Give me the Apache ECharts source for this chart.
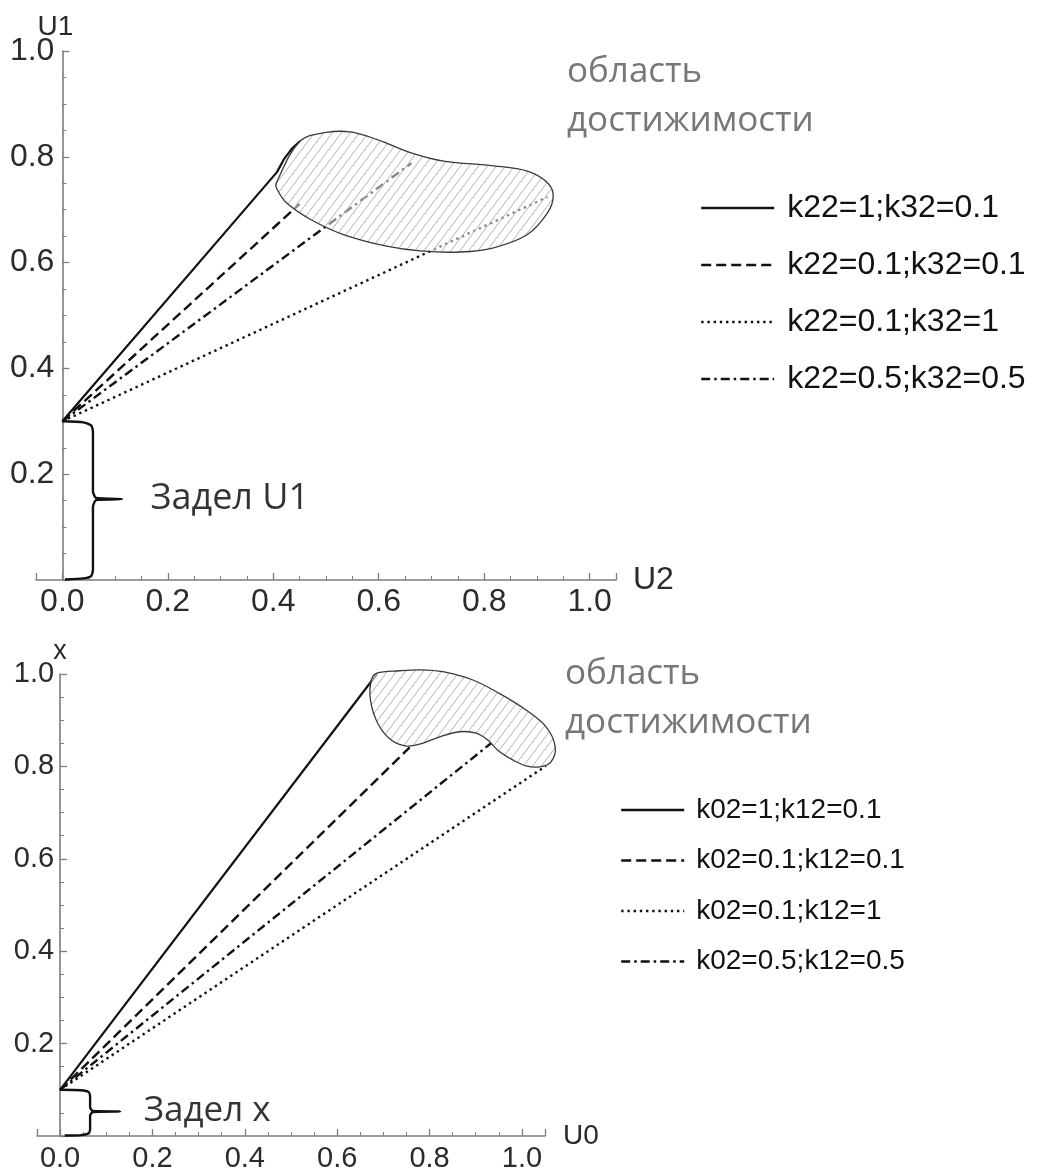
<!DOCTYPE html>
<html>
<head>
<meta charset="utf-8">
<script src="https://cdn.jsdelivr.net/npm/echarts@6/dist/echarts.min.js"></script>
<style>
  html, body { margin: 0; padding: 0; background: #fff; }
  #chart { width: 1040px; height: 1173px; }
</style>
</head>
<body>
<div id="chart"></div>
<script>
// ---------- Upper panel: U1 versus U2 ----------
const upperNames = ['k22=1;k32=0.1', 'k22=0.1;k32=0.1', 'k22=0.1;k32=1', 'k22=0.5;k32=0.5'];
const upperSolid   = [[0, 0.3], [0.407, 0.771], [0.42, 0.795], [0.435, 0.815], [0.451, 0.830]];
const upperDashed  = [[0, 0.3], [0.45, 0.711]];
const upperDotted  = [[0, 0.3], [0.92, 0.724]];
const upperDashDot = [[0, 0.3], [0.662, 0.788]];
const upperRegion = [
  [0.406, 0.751], [0.451, 0.830], [0.501, 0.846], [0.546, 0.847], [0.596, 0.833],
  [0.660, 0.808], [0.723, 0.792], [0.818, 0.783], [0.882, 0.773], [0.920, 0.751],
  [0.931, 0.726], [0.920, 0.694], [0.882, 0.653], [0.818, 0.628], [0.755, 0.620],
  [0.679, 0.622], [0.615, 0.631], [0.533, 0.653], [0.470, 0.682], [0.425, 0.713],
  [0.407, 0.739]
];
const upperReserve = [
  [0, 0.3], [0.04, 0.298], [0.055, 0.292], [0.058, 0.28], [0.058, 0.168], [0.064, 0.155],
  [0.113, 0.153], [0.064, 0.151], [0.058, 0.138], [0.058, 0.02], [0.055, 0.008],
  [0.04, 0.003], [0.005, 0.001]
];
const upperReserveTip = [0.113, 0.153];
const upperReserveText = 'Задел U1';

// ---------- Lower panel: x versus U0 ----------
const lowerNames = ['k02=1;k12=0.1', 'k02=0.1;k12=0.1', 'k02=0.1;k12=1', 'k02=0.5;k12=0.5'];
const lowerSolid   = [[0, 0.1], [0.686, 1.0]];
const lowerDashed  = [[0, 0.1], [0.757, 0.841]];
const lowerDotted  = [[0, 0.1], [1.052, 0.801]];
const lowerDashDot = [[0, 0.1], [0.933, 0.850]];
const lowerRegion = [
  [0.686, 1.002], [0.735, 1.007], [0.778, 1.009], [0.829, 1.005], [0.894, 0.987],
  [0.951, 0.958], [1.009, 0.922], [1.052, 0.886], [1.072, 0.843], [1.063, 0.810],
  [1.038, 0.799], [1.009, 0.801], [0.980, 0.814], [0.951, 0.832], [0.926, 0.857],
  [0.901, 0.872], [0.865, 0.875], [0.822, 0.864], [0.778, 0.848], [0.750, 0.844],
  [0.717, 0.857], [0.688, 0.893], [0.672, 0.944], [0.674, 0.987]
];
const lowerReserve = [
  [0, 0.1], [0.045, 0.099], [0.062, 0.095], [0.065, 0.085], [0.065, 0.062], [0.071, 0.054],
  [0.13, 0.053], [0.071, 0.052], [0.065, 0.044], [0.065, 0.015], [0.062, 0.006],
  [0.045, 0.002], [0.01, 0.001]
];
const lowerReserveTip = [0.13, 0.053];
const lowerReserveText = 'Задел x';

const regionCaption = ['область', 'достижимости'];

// shared horizontal range of both panels
const xMin = -0.05, xMax = 1.05;

// ---------- styles ----------
const ink = '#111111';
const axisGrey = '#7d7d7d';
const labelInk = '#2b2b2b';
const dashStyles = ['solid', [10, 5], [2.4, 3.8], [9, 4, 2.5, 4]];
const numFont = '"Liberation Sans", Arial, sans-serif';
const textFont = '"Open Sans", "Noto Sans", sans-serif';

const grids = [
  { left: 36, top: 51, width: 580, height: 529 },
  { left: 37, top: 674, width: 508, height: 462 }
];

// diagonal hatch tile for the reachable region, on a translucent white base
function hatchTile(w, h) {
  const c = document.createElement('canvas');
  c.width = w; c.height = h;
  const g = c.getContext('2d');
  g.fillStyle = 'rgba(255,255,255,0.5)';
  g.fillRect(0, 0, w, h);
  g.strokeStyle = '#b3b3b3';
  g.lineWidth = 1;
  for (const dx of [-w, 0, w]) {
    g.beginPath(); g.moveTo(dx, h); g.lineTo(dx + w, 0); g.stroke();
  }
  return c;
}
const hatch = hatchTile(9, 12);

function lineSeries(name, data, style, idx) {
  return {
    name, type: 'line', data, xAxisIndex: idx, yAxisIndex: idx,
    symbol: 'none', z: 3, silent: true, animation: false,
    lineStyle: { color: ink, width: style === 'solid' ? 2.2 : 2.4, type: style, cap: 'butt' },
    itemStyle: { color: ink }
  };
}

function regionSeries(data, idx) {
  return {
    type: 'custom', xAxisIndex: idx, yAxisIndex: idx, data, z: 5, clip: false,
    silent: true, animation: false, encode: { x: 0, y: 1 },
    renderItem(params, api) {
      if (params.dataIndex !== 0) return null;
      const pts = data.map(p => api.coord(p));
      return {
        type: 'polygon',
        shape: { points: pts, smooth: 0.35 },
        style: { fill: { image: hatch, repeat: 'repeat' }, stroke: '#3a3a3a', lineWidth: 1.3 }
      };
    }
  };
}

function braceSeries(data, idx) {
  return {
    type: 'line', data, xAxisIndex: idx, yAxisIndex: idx, symbol: 'none', z: 3,
    silent: true, animation: false, smooth: 0.2,
    lineStyle: { color: ink, width: 2.4 }
  };
}

function braceLabel(tip, text, dist, size, idx) {
  return {
    type: 'scatter', data: [tip], xAxisIndex: idx, yAxisIndex: idx, symbolSize: 1,
    silent: true, animation: false, itemStyle: { color: 'rgba(0,0,0,0)' },
    label: {
      show: true, position: 'right', distance: dist, formatter: text,
      fontFamily: textFont, fontSize: size, color: '#000'
    }
  };
}

const isMajor = v => Math.abs(v / 0.2 - Math.round(v / 0.2)) < 1e-6;

function xAxisCfg(idx, name, fontSize, nameSize, nameGap, margin) {
  return {
    type: 'value', gridIndex: idx, min: xMin, max: xMax, splitNumber: 5,
    name, nameLocation: 'end', nameGap, nameMoveOverlap: false,
    nameTextStyle: { fontFamily: numFont, fontSize: nameSize, color: labelInk, verticalAlign: 'middle' },
    axisLine: { onZero: false, lineStyle: { color: axisGrey, width: 1.6 } },
    axisTick: { show: true, inside: true, length: 7, lineStyle: { color: axisGrey, width: 1.3 } },
    minorTick: { show: true, splitNumber: 4, length: 4, lineStyle: { color: axisGrey, width: 1 } },
    splitLine: { show: false }, minorSplitLine: { show: false },
    axisLabel: {
      fontFamily: numFont, fontSize, color: labelInk, margin,
      showMinLabel: false, showMaxLabel: true, hideOverlap: false,
      formatter: v => (isMajor(v) ? v.toFixed(1) : '')
    }
  };
}

// the vertical axis stands at x = 0, inside the horizontal range
function yAxisCfg(idx, name, fontSize, nameSize, nameGap, namePadRight, margin) {
  const g = grids[idx];
  const zeroShift = (0 - xMin) / (xMax - xMin) * g.width;
  return {
    type: 'value', gridIndex: idx, min: 0, max: 1, interval: 0.2,
    position: 'left', offset: -zeroShift,
    name, nameLocation: 'end', nameGap, nameMoveOverlap: false,
    nameTextStyle: { fontFamily: numFont, fontSize: nameSize, color: labelInk, padding: [0, namePadRight, 0, 0] },
    axisLine: { onZero: false, lineStyle: { color: axisGrey, width: 1.6 } },
    axisTick: { show: true, inside: true, length: 7, lineStyle: { color: axisGrey, width: 1.3 } },
    minorTick: { show: true, splitNumber: 4, length: 4, lineStyle: { color: axisGrey, width: 1 } },
    splitLine: { show: false }, minorSplitLine: { show: false },
    axisLabel: {
      fontFamily: numFont, fontSize, color: labelInk, margin, hideOverlap: false,
      formatter: v => (v === 0 ? '' : v.toFixed(1))
    }
  };
}

function legendCfg(names, left, top, itemWidth, gap, fontSize, pad) {
  return {
    data: names, orient: 'vertical', left, top, itemWidth, itemHeight: 14, itemGap: gap,
    selectedMode: false,
    itemStyle: { opacity: 0 },
    lineStyle: { width: 2.4 },
    textStyle: { fontFamily: numFont, fontSize, color: ink, padding: [0, 0, 0, pad] }
  };
}

function caption(x, y1, y2) {
  const st = { fontFamily: textFont, fontSize: 35, fill: '#777777', align: 'left', verticalAlign: 'middle' };
  return [
    { type: 'text', x, y: y1, silent: true, style: Object.assign({ text: regionCaption[0] }, st) },
    { type: 'text', x, y: y2, silent: true, style: Object.assign({ text: regionCaption[1] }, st) }
  ];
}

const chart = echarts.init(document.getElementById('chart'), null, { renderer: 'canvas' });
chart.setOption({
  backgroundColor: '#ffffff',
  animation: false,
  grid: grids.map(g => Object.assign({ containLabel: false, outerBoundsMode: 'none' }, g)),
  xAxis: [
    xAxisCfg(0, 'U2', 32, 32, 17, 6),
    xAxisCfg(1, 'U0', 29, 28, 18, 8)
  ],
  yAxis: [
    yAxisCfg(0, 'U1', 32, 28, 10, 14, 8),
    yAxisCfg(1, 'x', 29, 27, 9, 0, 6)
  ],
  legend: [
    legendCfg(upperNames, 695, 187, 73, 25, 32, 8),
    legendCfg(lowerNames, 615, 791, 63, 22.5, 28, 7)
  ],
  graphic: [].concat(caption(567, 72, 121), caption(565, 674, 723)),
  series: [
    lineSeries(upperNames[0], upperSolid, dashStyles[0], 0),
    lineSeries(upperNames[1], upperDashed, dashStyles[1], 0),
    lineSeries(upperNames[2], upperDotted, dashStyles[2], 0),
    lineSeries(upperNames[3], upperDashDot, dashStyles[3], 0),
    regionSeries(upperRegion, 0),
    braceSeries(upperReserve, 0),
    braceLabel(upperReserveTip, upperReserveText, 28, 36, 0),

    lineSeries(lowerNames[0], lowerSolid, dashStyles[0], 1),
    lineSeries(lowerNames[1], lowerDashed, dashStyles[1], 1),
    lineSeries(lowerNames[2], lowerDotted, dashStyles[2], 1),
    lineSeries(lowerNames[3], lowerDashDot, dashStyles[3], 1),
    regionSeries(lowerRegion, 1),
    braceSeries(lowerReserve, 1),
    braceLabel(lowerReserveTip, lowerReserveText, 23, 35, 1)
  ]
});
</script>
</body>
</html>
